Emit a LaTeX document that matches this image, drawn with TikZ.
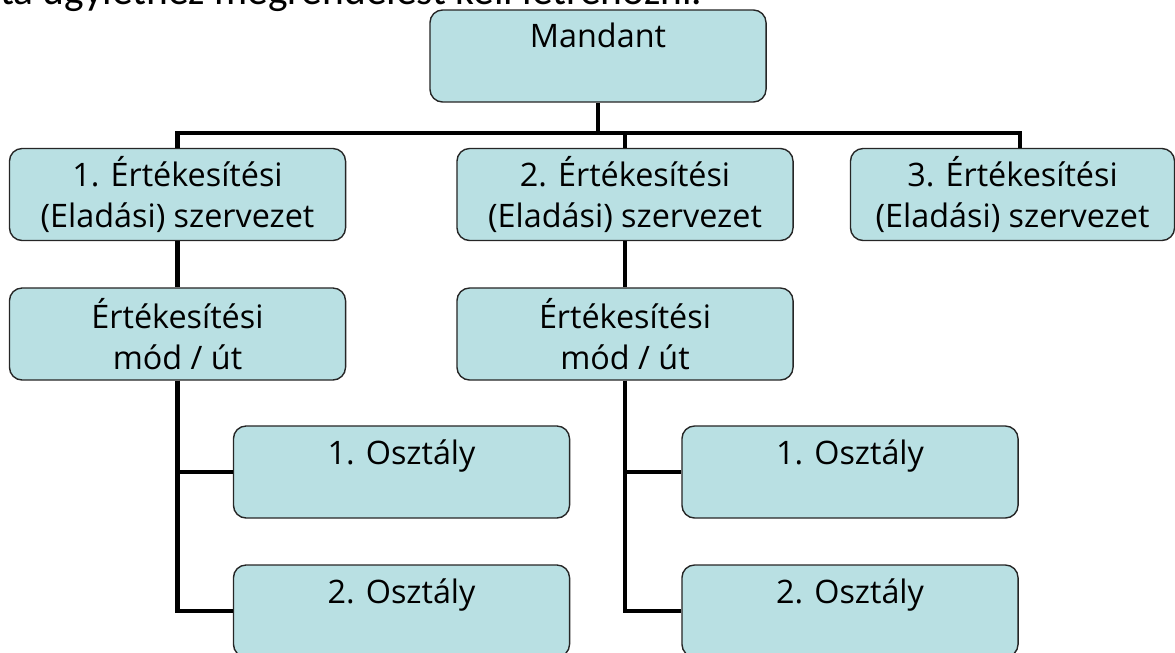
\documentclass[tikz,border=0pt]{standalone}
\usepackage{fontspec}
\newfontfamily\dobozbetu{Open Sans}
\newfontfamily\felsobetu{Carlito}
\definecolor{dobozkek}{HTML}{B9E0E3}
\tikzset{
  doboz/.style={draw=black!85, line width=1pt, fill=dobozkek, rounded corners=9pt,
    minimum width=8.4cm, minimum height=2.3cm, align=center, inner sep=2pt,
    font=\dobozbetu\fontsize{23}{29}\selectfont},
  vonal/.style={line width=2.9pt, black}
}

\begin{document}
\begin{tikzpicture}[x=0.025cm, y=-0.025cm]
    \useasboundingbox (0,0) rectangle (1175,652);
    \clip (0,0) rectangle (1175,652);

    % 1. LEVÁGOTT SOR A LAP TETEJÉN
    \node[anchor=base west, inner sep=0pt, font=\felsobetu\fontsize{29.5}{34}\selectfont] (felirat) at (0,4) {ta ügylethez megrendelést kell létrehozni.};

    % 2. DOBOZOK
    \node[doboz] (mandant) at (598,56) {Mandant\\~};

    \node[doboz] (sz1) at (177.5,194.5) {1. Értékesítési\\(Eladási) szervezet};
    \node[doboz] (sz2) at (625,194.5) {2. Értékesítési\\(Eladási) szervezet};
    \node[doboz, minimum width=8.1cm] (sz3) at (1012.5,194.5) {3. Értékesítési\\(Eladási) szervezet};

    \node[doboz] (mod1) at (177.5,334) {Értékesítési\\mód / út};
    \node[doboz] (mod2) at (625,334) {Értékesítési\\mód / út};

    \node[doboz] (o11) at (401.5,472) {1. Osztály\\~};
    \node[doboz] (o12) at (401.5,611) {2. Osztály\\~};
    \node[doboz] (o21) at (850,472) {1. Osztály\\~};
    \node[doboz] (o22) at (850,611) {2. Osztály\\~};

    % 3. ÖSSZEKÖTŐ VONALAK
    \coordinate (sin) at (0,133);
    \coordinate (ag3) at (1020,133);
    \draw[vonal] (mandant.south) -- (mandant.south |- sin);
    \draw[vonal] (sz1.north) -- (sz1.north |- sin) -- (ag3) -- (ag3 |- sz3.north);
    \draw[vonal] (sz2.north) -- (sz2.north |- sin);

    \draw[vonal] (sz1.south) -- (mod1.north);
    \draw[vonal] (sz2.south) -- (mod2.north);
    \draw[vonal] (mod1.south) |- (o11.west);
    \draw[vonal] (mod1.south) |- (o12.west);
    \draw[vonal] (mod2.south) |- (o21.west);
    \draw[vonal] (mod2.south) |- (o22.west);

\end{tikzpicture}
\end{document}
